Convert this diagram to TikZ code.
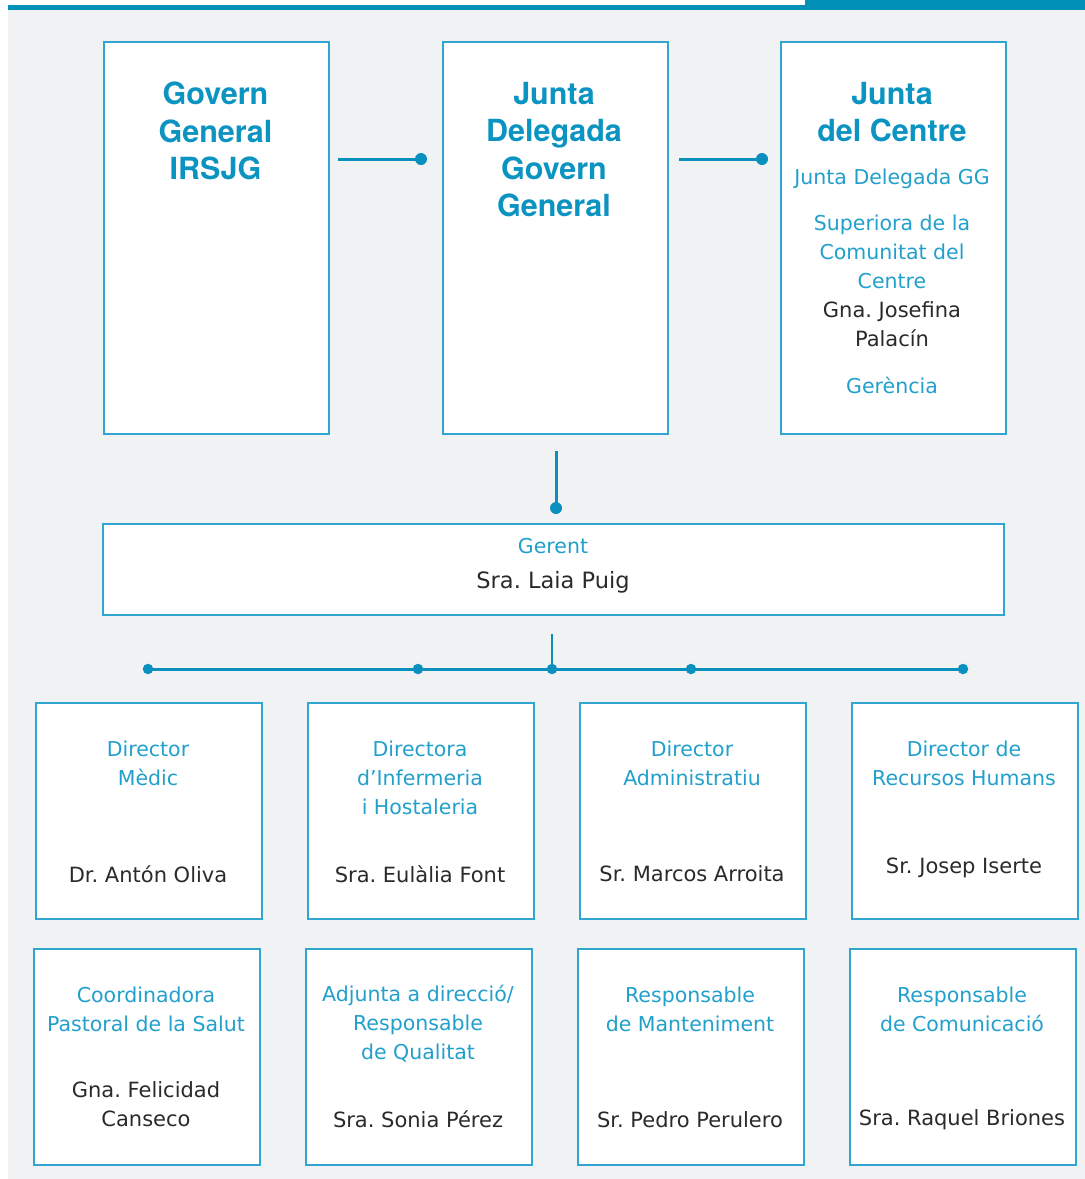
\documentclass[tikz,border=0pt]{standalone}
\usepackage{fontspec}
\setmainfont{DejaVu Sans}
\newfontfamily\headfont{TeX Gyre Heros}
\frenchspacing
\definecolor{bggrey}{HTML}{F1F2F4}
\definecolor{barblue}{HTML}{0090B8}
\definecolor{titleblue}{HTML}{0B93C1}
\definecolor{textblue}{HTML}{22A0CC}
\definecolor{darktext}{HTML}{2A2A2A}
\definecolor{borderblue}{HTML}{2FA5D0}
\definecolor{lineblue}{HTML}{0A90BE}
\begin{document}
\begin{tikzpicture}[x=1pt,y=-1pt,
  topbox/.style={draw=borderblue, line width=1.5pt, fill=white, inner sep=0pt, anchor=north west, minimum width=225pt, minimum height=392pt},
  gbox/.style={draw=borderblue, line width=1.5pt, fill=white, inner sep=0pt, anchor=north west, minimum width=901pt, minimum height=91pt},
  sbox/.style={draw=borderblue, line width=1.5pt, fill=white, inner sep=0pt, anchor=north west, minimum width=226pt, minimum height=216pt},
  title/.style={text=titleblue, align=center, inner sep=0pt, font=\headfont\bfseries\fontsize{30.5}{37.5}\selectfont},
  role/.style={text=textblue, align=center, inner sep=0pt, font=\fontsize{20.5}{29}\selectfont},
  person/.style={text=darktext, align=center, inner sep=0pt, font=\fontsize{21}{29}\selectfont},
  conn/.style={draw=lineblue, line width=3pt},
  dot/.style={circle, fill=lineblue, inner sep=0pt, minimum size=12pt}
]
\useasboundingbox (0,0) rectangle (1085,1179);
\fill[bggrey] (8,10) rectangle (1085,1179);
\fill[barblue] (8,4.5) rectangle (805,9.5);
\fill[barblue] (805,0) rectangle (1085,9.5);

% top boxes
\node[topbox] (gg) at (103,41) {};
\node[topbox] (jd) at (442,41) {};
\node[topbox] (jc) at (780,41) {};
\node[title] (ggt) at (215.5,131) {Govern\\General\\IRSJG};
\node[title] (jdt) at (554,149.5) {Junta\\Delegada\\Govern\\General};
\node[title] (jct) at (892,112) {Junta\\del Centre};
\node[role] (jc1) at (892,179) {Junta Delegada GG};
\node[role] (jc2) at (892,252) {Superiora de la\\Comunitat del\\Centre};
\node[person] (jc3) at (892,324) {Gna. Josefina\\Palacín};
\node[role] (jc4) at (892,385) {Gerència};

% connectors top
\coordinate (a1) at (338,159);
\node[dot] (a2) at (421,159) {};
\coordinate (b1) at (679,159);
\node[dot] (b2) at (762,159) {};
\draw[conn] (a1) -- (a2.center);
\draw[conn] (b1) -- (b2.center);
\coordinate (v1) at (556,451);
\node[dot] (v2) at (556,508) {};
\draw[conn] (v1) -- (v2.center);

% gerent
\node[gbox] (ger) at (102,523) {};
\node[role] (gert) at (553,546) {Gerent};
\node[person, font=\fontsize{22.5}{29}\selectfont] (gerp) at (553,582) {Sra. Laia Puig};

% distribution line
\coordinate (v3) at (552,634);
\node[dot, minimum size=10.5pt] (h1) at (148,669) {};
\node[dot, minimum size=10.5pt] (h2) at (418,669) {};
\node[dot, minimum size=10.5pt] (h3) at (552,669) {};
\node[dot, minimum size=10.5pt] (h4) at (691,669) {};
\node[dot, minimum size=10.5pt] (h5) at (963,669) {};
\draw[conn, line width=2.4pt] (v3) -- (h3.center);
\draw[conn] (h1.center) -- (h5.center);

% row 1
\node[sbox] (r1a) at (35,702) {};
\node[sbox] (r1b) at (307,702) {};
\node[sbox] (r1c) at (579,702) {};
\node[sbox] (r1d) at (851,702) {};
\node[role] (r1at) at (148,763.5) {Director\\Mèdic};
\node[person] (r1ap) at (148,874) {Dr. Antón Oliva};
\node[role] (r1bt) at (420,778) {Directora\\d’Infermeria\\i Hostaleria};
\node[person] (r1bp) at (420,874) {Sra. Eulàlia Font};
\node[role] (r1ct) at (692,763.5) {Director\\Administratiu};
\node[person] (r1cp) at (692,874) {Sr. Marcos Arroita};
\node[role] (r1dt) at (964,763.5) {Director de\\Recursos Humans};
\node[person] (r1dp) at (964,868) {Sr. Josep Iserte};

% row 2
\node[sbox] (r2a) at (33,948) {};
\node[sbox] (r2b) at (305,948) {};
\node[sbox] (r2c) at (577,948) {};
\node[sbox] (r2d) at (849,948) {};
\node[role] (r2at) at (146,1009.5) {Coordinadora\\Pastoral de la Salut};
\node[person] (r2ap) at (146,1104.5) {Gna. Felicidad\\Canseco};
\node[role] (r2bt) at (418,1024) {Adjunta a direcció/\\Responsable\\de Qualitat};
\node[person] (r2bp) at (418,1119) {Sra. Sonia Pérez};
\node[role] (r2ct) at (690,1009.5) {Responsable\\de Manteniment};
\node[person] (r2cp) at (690,1120) {Sr. Pedro Perulero};
\node[role] (r2dt) at (962,1009.5) {Responsable\\de Comunicació};
\node[person] (r2dp) at (962,1120) {Sra. Raquel Briones};
\end{tikzpicture}
\end{document}
